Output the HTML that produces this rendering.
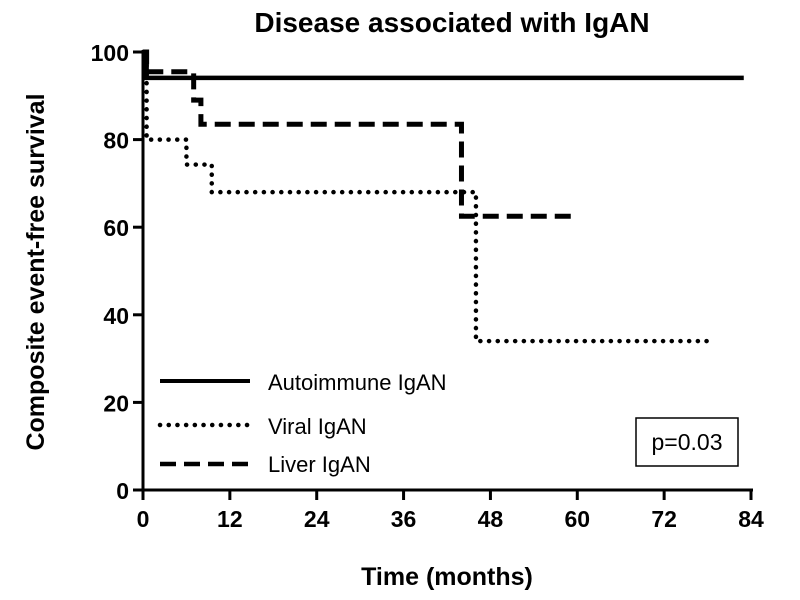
<!DOCTYPE html>
<html><head><meta charset="utf-8"><style>
body{margin:0;background:#fff;}
svg{display:block;font-family:"Liberation Sans",Arial,sans-serif;}
</style></head><body>
<svg id="chart" width="800" height="600" viewBox="0 0 800 600">
<text x="452" y="32" font-size="28" font-weight="bold" text-anchor="middle">Disease associated with IgAN</text>
<text transform="translate(44,272) rotate(-90)" font-size="25" font-weight="bold" text-anchor="middle">Composite event-free survival</text>
<text x="447" y="585" font-size="25" font-weight="bold" text-anchor="middle">Time (months)</text>
<g id="axes"></g>
<g id="series"></g>
<g>
<line x1="160" y1="381" x2="250" y2="381" stroke="#000" stroke-width="4"/>
<text x="268" y="390" font-size="22">Autoimmune IgAN</text>
<line x1="160" y1="425" x2="250" y2="425" stroke="#000" stroke-width="4.5" stroke-dasharray="0.1 8.6" stroke-linecap="round"/>
<text x="268" y="434" font-size="22">Viral IgAN</text>
<line x1="160" y1="464" x2="250" y2="464" stroke="#000" stroke-width="4.5" stroke-dasharray="16 8"/>
<text x="268" y="472" font-size="22">Liver IgAN</text>
</g>
<rect x="636" y="418" width="102" height="48" fill="none" stroke="#000" stroke-width="1.5"/>
<text x="687" y="450" font-size="23" text-anchor="middle">p=0.03</text>
</svg>
<script>
const xTicks=[0,12,24,36,48,60,72,84];
const yTicks=[0,20,40,60,80,100];
const autoT=[0,0.5,83];
const autoS=[100,94.1,94.1];
const viralT=[0.5,6,9.5,46,78];
const viralS=[80,74.3,68,34,34];
const liverT=[0.5,7,8,44,60];
const liverS=[95.5,89,83.5,62.5,62.5];
const X=t=>143+t*(751-143)/84;
const Y=v=>490-v*(490-52)/100;
const NS="http://www.w3.org/2000/svg";
const ax=document.getElementById('axes');
function mk(p,tag,attrs){const e=document.createElementNS(NS,tag);for(const k in attrs)e.setAttribute(k,attrs[k]);p.appendChild(e);return e;}
let a=mk(ax,'line',{x1:X(0)-1.5,y1:Y(0),x2:X(84)+2,y2:Y(0),stroke:'#000','stroke-width':3});


a=mk(ax,'line',{x1:X(0),y1:Y(0),x2:X(0),y2:Y(100)-1.5,stroke:'#000','stroke-width':3});


xTicks.forEach(t=>{
 let l=mk(ax,'line',{x1:X(t),y1:Y(0),x2:X(t),y2:Y(0)+10,stroke:'#000','stroke-width':3});
 
 
 let tx=mk(ax,'text',{x:X(t),y:Y(0)+37,'font-size':23,'font-weight':'bold','text-anchor':'middle'});tx.textContent=t;
 
 
});
yTicks.forEach(v=>{
 let l=mk(ax,'line',{x1:X(0)-10,y1:Y(v),x2:X(0),y2:Y(v),stroke:'#000','stroke-width':3});
 
 
 let tx=mk(ax,'text',{x:X(0)-14,y:Y(v)+9,'font-size':23,'font-weight':'bold','text-anchor':'end'});tx.textContent=v;
 
 
});
function stepPath(T,S,start){let d=`M${X(0)},${Y(start)}`;
 for(let i=0;i<T.length;i++){d+=` H${X(T[i])} V${Y(S[i])}`;}
 return d;}
const sg=document.getElementById('series');
let p=mk(sg,'path',{d:stepPath(viralT,viralS,100),fill:'none',stroke:'#000','stroke-width':4.5,'stroke-dasharray':'0.1 8.6','stroke-linecap':'round'});


p=mk(sg,'path',{d:stepPath(liverT,liverS,100),fill:'none',stroke:'#000','stroke-width':5,'stroke-dasharray':'16 8'});


p=mk(sg,'path',{d:stepPath(autoT,autoS,100),fill:'none',stroke:'#000','stroke-width':4.5});


</script>
</body></html>
